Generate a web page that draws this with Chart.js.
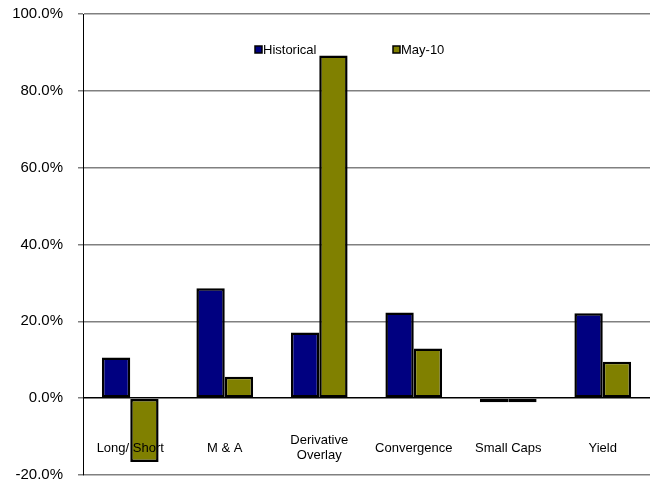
<!DOCTYPE html>
<html>
<head>
<meta charset="utf-8">
<script src="https://cdn.jsdelivr.net/npm/chart.js@4"></script>
<style>
  html, body { margin: 0; padding: 0; background: #fff; }
  #wrap { width: 653px; height: 483px; position: relative; }
</style>
</head>
<body>
<div id="wrap"><canvas id="chart"></canvas></div>
<script>
const categories = [['Long/ Short'], ['M & A'], ['Derivative', 'Overlay'], ['Convergence'], ['Small Caps'], ['Yield']];
const historical = [10.6, 28.6, 17.1, 22.3, -0.5, 22.1];
const may10 = [-16.6, 5.6, 89.2, 12.9, -0.7, 9.5];
const yTicks = [-20, 0, 20, 40, 60, 80, 100];

// category labels drawn inside the plot, near the bottom
const insideLabels = {
    id: 'insideLabels',
    afterDatasetsDraw(chart) {
        const ctx = chart.ctx;
        const x = chart.scales.x;
        ctx.save();
        ctx.font = '13px "Liberation Sans", Arial, sans-serif';
        ctx.fillStyle = '#000';
        ctx.textAlign = 'center';
        ctx.textBaseline = 'middle';
        categories.forEach((lines, i) => {
            const cx = x.getPixelForValue(i);
            const lh = 15;
            const y0 = 448 - (lines.length - 1) * lh / 2;
            lines.forEach((t, j) => ctx.fillText(t, cx, y0 + j * lh));
        });
        ctx.restore();
    }
};

// legend drawn inside the plot
const insideLegend = {
    id: 'insideLegend',
    afterDatasetsDraw(chart) {
        const ctx = chart.ctx;
        const spots = [255, 393];
        ctx.save();
        ctx.font = '13px "Liberation Sans", Arial, sans-serif';
        ctx.textBaseline = 'middle';
        ctx.textAlign = 'left';
        chart.data.datasets.forEach((ds, i) => {
            const bx = spots[i], by = 46;
            ctx.fillStyle = ds.backgroundColor;
            ctx.fillRect(bx, by, 7, 7);
            ctx.strokeStyle = '#000';
            ctx.lineWidth = 1.5;
            ctx.strokeRect(bx, by, 7, 7);
            ctx.fillStyle = '#000';
            ctx.fillText(ds.label, bx + 8, by + 4);
        });
        ctx.restore();
    }
};

new Chart(document.getElementById('chart'), {
    type: 'bar',
    data: {
        labels: categories.map(c => c.join(' ')),
        datasets: [{
            label: 'Historical',
            data: historical,
            backgroundColor: '#000080',
            borderColor: '#000',
            borderWidth: 2.5,
            borderSkipped: false,
            minBarLength: 4
        }, {
            label: 'May-10',
            data: may10,
            backgroundColor: '#808000',
            borderColor: '#000',
            borderWidth: 2.5,
            borderSkipped: false,
            minBarLength: 4
        }]
    },
    options: {
        responsive: true,
        maintainAspectRatio: false,
        animation: false,
        layout: { padding: { left: 0, top: 14, right: 3, bottom: 8 } },
        datasets: { bar: { categoryPercentage: 0.6, barPercentage: 1 } },
        plugins: {
            legend: { display: false },
            tooltip: { enabled: false }
        },
        scales: {
            x: { display: false },
            y: {
                min: -20,
                max: 100,
                afterFit(scale) {
                    scale.width = 83;
                    scale.paddingTop = 0;
                    scale.paddingBottom = 0;
                },
                afterBuildTicks(scale) { scale.ticks = yTicks.map(v => ({ value: v })); },
                border: { display: true, color: '#000', width: 1 },
                grid: {
                    color: c => c.tick && c.tick.value === 0 ? '#000' : '#808080',
                    tickColor: '#808080',
                    tickLength: 5,
                    lineWidth: 1.5
                },
                ticks: {
                    padding: 15,
                    color: '#000',
                    font: { family: '"Liberation Sans", Arial, sans-serif', size: 15 },
                    callback: v => v.toFixed(1) + '%'
                }
            }
        }
    },
    plugins: [insideLabels, insideLegend]
});
</script>
</body>
</html>
